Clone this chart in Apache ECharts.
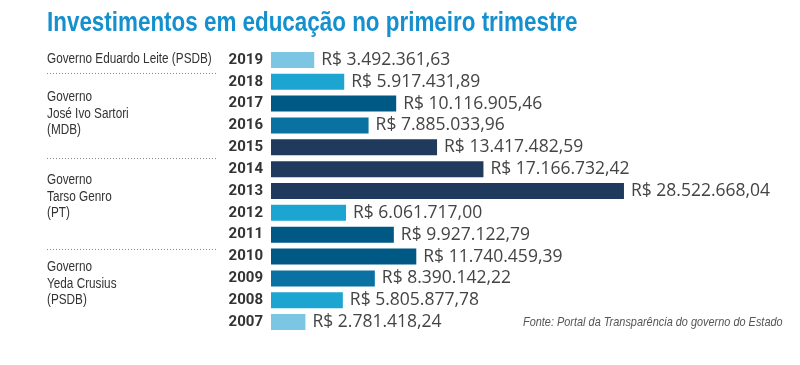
<!DOCTYPE html>
<html>
<head>
<meta charset="utf-8">
<script src="https://cdn.jsdelivr.net/npm/echarts@6/dist/echarts.min.js"></script>
<style>
html,body{margin:0;padding:0;background:#fff;}
#chart{width:800px;height:365px;}
</style>
</head>
<body>
<div id="chart"></div>
<script>
const years = ['2019','2018','2017','2016','2015','2014','2013','2012','2011','2010','2009','2008','2007'];
const values = [3492361.63, 5917431.89, 10116905.46, 7885033.96, 13417482.59, 17166732.42, 28522668.04, 6061717.00, 9927122.79, 11740459.39, 8390142.22, 5805877.78, 2781418.24];
const govLabels = [
  'Governo Eduardo Leite (PSDB)',
  'Governo\nJosé Ivo Sartori\n(MDB)',
  'Governo\nTarso Genro\n(PT)',
  'Governo\nYeda Crusius\n(PSDB)'
];
const titleText = 'Investimentos em educação no primeiro trimestre';
const sourceText = 'Fonte: Portal da Transparência do governo do Estado';

function fmtBRL(v) {
  const parts = v.toFixed(2).split('.');
  const intPart = parts[0].replace(/\B(?=(\d{3})+(?!\d))/g, '.');
  return 'R$ ' + intPart + ',' + parts[1];
}
function barColor(v) {
  if (v < 4500000) return '#7cc5e3';
  if (v < 7000000) return '#1ca5d0';
  if (v < 9000000) return '#0a71a3';
  if (v < 13000000) return '#005985';
  return '#1f3a5c';
}

const chart = echarts.init(document.getElementById('chart'), null, {renderer: 'canvas'});
const ff = '"Liberation Sans", Arial, sans-serif';
const dotted = {stroke: '#888', lineWidth: 1, lineDash: [1, 2]};
function txt(x, y, text, font, fill, sx, extra) {
  return Object.assign({type: 'text', x: x, y: y, scaleX: sx,
    style: Object.assign({text: text, font: font, fill: fill, textVerticalAlign: 'top'}, extra || {})});
}
chart.setOption({
  backgroundColor: '#ffffff',
  animation: false,
  grid: {left: 271, top: 49, height: 284, width: 495},
  xAxis: {type: 'value', min: 0, max: 40000000, show: false},
  yAxis: {
    type: 'category', data: years, inverse: true,
    axisLine: {show: false}, axisTick: {show: false},
    axisLabel: {margin: 8, fontFamily: 'Roboto, sans-serif', fontWeight: 'bold', fontSize: 15, color: '#333'}
  },
  series: [{
    type: 'bar',
    data: values.map(v => ({value: v, itemStyle: {color: barColor(v)}})),
    barWidth: 16,
    label: {
      show: true, position: 'right', distance: 7,
      formatter: p => fmtBRL(p.value),
      fontFamily: '"Open Sans", sans-serif', fontSize: 17.5, color: '#444'
    }
  }],
  graphic: [
    txt(47, 10, titleText, 'bold 27px ' + ff, '#1590cf', 0.83),
    txt(47, 52, govLabels[0], '14px ' + ff, '#333', 0.84),
    {type: 'line', shape: {x1: 47, y1: 73.5, x2: 216, y2: 73.5}, style: dotted},
    txt(47, 89, govLabels[1], '14px ' + ff, '#333', 0.84, {lineHeight: 16.5}),
    {type: 'line', shape: {x1: 47, y1: 158.5, x2: 216, y2: 158.5}, style: dotted},
    txt(47, 172, govLabels[2], '14px ' + ff, '#333', 0.84, {lineHeight: 16.5}),
    {type: 'line', shape: {x1: 47, y1: 249.5, x2: 216, y2: 249.5}, style: dotted},
    txt(47, 259, govLabels[3], '14px ' + ff, '#333', 0.84, {lineHeight: 16.5}),
    txt(523, 316, sourceText, 'italic 13px ' + ff, '#555', 0.84)
  ]
});
</script>
</body>
</html>
